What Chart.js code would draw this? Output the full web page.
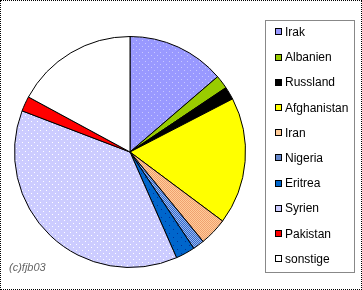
<!DOCTYPE html>
<html>
<head>
<meta charset="utf-8">
<script src="https://cdn.jsdelivr.net/npm/chart.js@4.4.0/dist/chart.umd.min.js"></script>
<style>
  body { margin: 0; background: #fff; }
  #wrap { position: relative; width: 362px; height: 290px; box-sizing: border-box; border: 1px dotted #000; }
  #pie { position: absolute; left: 0; top: 0; }
  #legend { position: absolute; left: 264px; top: 19px; width: 90px; height: 253px; box-sizing: border-box;
    border: 1px solid #888; font: 12px "Liberation Sans", Arial, sans-serif; color: #000; }
  .item { position: absolute; left: 9px; height: 14px; line-height: 14px; white-space: nowrap; }
  .box { display: inline-block; width: 5px; height: 5px; border: 1px solid #000; vertical-align: middle; margin-right: 3px; margin-top: -2px; }
  #copy { position: absolute; left: 8px; top: 260px; font: italic 11px "Liberation Sans", Arial, sans-serif; color: #666; }
</style>
</head>
<body>
<div id="wrap">
  <canvas id="pie" width="362" height="290"></canvas>
  <div id="legend"></div>
  <div id="copy">(c)fjb03</div>
</div>
<script>
// values (share in %)
const categories = ["Irak", "Albanien", "Russland", "Afghanistan", "Iran", "Nigeria", "Eritrea", "Syrien", "Pakistan", "sonstige"];
const shares = [13.7, 1.9, 1.8, 17.8, 3.9, 1.6, 2.7, 37.4, 2.1, 17.1];
const baseColors = ["#9999FF", "#99CC00", "#000000", "#FFFF00", "#FFCC99", "#6688CC", "#0066CC", "#CCCCFF", "#FF0000", "#FFFFFF"];

// small dotted fills like the old office chart
function dots(bg, dot, step) {
  const c = document.createElement("canvas");
  c.width = step; c.height = step;
  const g = c.getContext("2d");
  g.fillStyle = bg; g.fillRect(0, 0, step, step);
  g.fillStyle = dot;
  g.fillRect(0, 0, 1, 1);
  g.fillRect(step / 2, step / 2, 1, 1);
  return g.createPattern(c, "repeat");
}
const ctx = document.getElementById("pie").getContext("2d");
const fills = baseColors.slice();
fills[0] = dots("#9999FF", "#C8C8FF", 6);
fills[4] = dots("#FFCC99", "#F0A070", 2);
fills[5] = dots("#3366CC", "#99BBEE", 2);
fills[6] = dots("#0066CC", "#003399", 8);
fills[7] = dots("#CCCCFF", "#FFFFFF", 6);

new Chart(ctx, {
  type: "pie",
  data: {
    labels: categories,
    datasets: [{
      data: shares,
      backgroundColor: fills,
      borderColor: "#000",
      borderWidth: 1,
    }],
  },
  options: {
    responsive: false,
    animation: false,
    layout: { padding: { left: 13, top: 35, right: 117, bottom: 23 } },
    plugins: {
      legend: { display: false },
      tooltip: { enabled: false },
    },
  },
});

// legend as text beside the pie
const legend = document.getElementById("legend");
categories.forEach(function (name, i) {
  const el = document.createElement("div");
  el.className = "item";
  el.style.top = (4 + i * 25.2) + "px";
  el.innerHTML = '<span class="box" style="background:' + baseColors[i] + '"></span>' + name;
  legend.appendChild(el);
});
</script>
</body>
</html>
